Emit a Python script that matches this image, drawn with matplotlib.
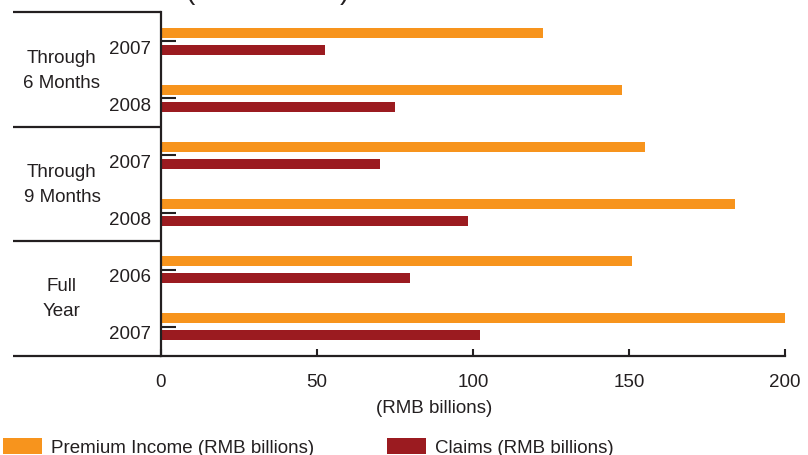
import matplotlib
matplotlib.use("Agg")
import matplotlib.pyplot as plt
from matplotlib.transforms import ScaledTranslation, blended_transform_factory

plt.rcParams['font.family'] = ['Liberation Sans', 'DejaVu Sans']

groups = ['Through\n6 Months', 'Through\n9 Months', 'Full\nYear']
years = ['2007', '2008', '2007', '2008', '2006', '2007']
premium = [122.4, 147.7, 155.1, 184.0, 151.0, 200.0]
claims = [52.6, 75.0, 70.2, 98.4, 79.8, 102.2]

orange = '#F7941D'
red = '#9B1B20'
ink = '#231F20'

fig = plt.figure(figsize=(8.08, 4.56), dpi=100)
ax = fig.add_axes([161 / 808, 1 - 357 / 456, 624 / 808, 344 / 456])

pos = list(range(len(years)))
bp = ax.barh([p - 0.15 for p in pos], premium, height=0.16, color=orange,
             label='Premium Income (RMB billions)')
bc = ax.barh([p + 0.15 for p in pos], claims, height=0.16, color=red,
             label='Claims (RMB billions)')

ax.set_xlim(0, 200)
ax.set_ylim(5.5175, -0.5175)
ax.set_xticks([0, 50, 100, 150, 200])
ax.set_yticks(pos, years)

for side in ['top', 'right']:
    ax.spines[side].set_visible(False)
for side in ['left', 'bottom']:
    ax.spines[side].set_linewidth(1.6)
    ax.spines[side].set_color(ink)

ax.tick_params(axis='x', direction='in', length=5, width=1.5, color=ink,
               labelsize=13.5, labelcolor=ink, pad=12)
ax.tick_params(axis='y', direction='in', length=11, width=1.5, color=ink,
               labelsize=13.5, labelcolor=ink, pad=7)
for lbl in ax.get_yticklabels():
    lbl.set_transform(lbl.get_transform() + ScaledTranslation(0, -5 / 100, fig.dpi_scale_trans))

ax.set_xlabel('(RMB billions)', fontsize=13.5, color=ink)
ax.xaxis.set_label_coords(0.4375, -0.125)

# group panel on the left
trans = blended_transform_factory(ax.transAxes, ax.transData)
x0 = (13 - 161) / 624
for yy in [-0.5175, 1.5, 3.5, 5.5175]:
    ax.plot([x0, 0], [yy, yy], transform=trans, color=ink, lw=1.6,
            clip_on=False, solid_capstyle='butt')
for i, g in enumerate(groups):
    ax.text((62 - 161) / 624, 2 * i + 0.5, g, transform=trans, ha='center',
            va='center', fontsize=13.5, color=ink, linespacing=1.65)

# clipped title remnants at the very top
fig.text(185 / 808, 1 - 5 / 456, '(', fontsize=20, color=ink, va='bottom')
fig.text(340 / 808, 1 - 5 / 456, ')', fontsize=20, color=ink, va='bottom')

fig.legend(handles=[bp, bc], loc='center left', bbox_to_anchor=(3 / 808, 1 - 448 / 456),
           ncol=2, frameon=False, fontsize=13.5, handlelength=2.1, handleheight=1.0,
           handletextpad=0.45, columnspacing=3.9, borderpad=0, borderaxespad=0,
           labelcolor=ink)

fig.savefig('out.png', dpi=100)
